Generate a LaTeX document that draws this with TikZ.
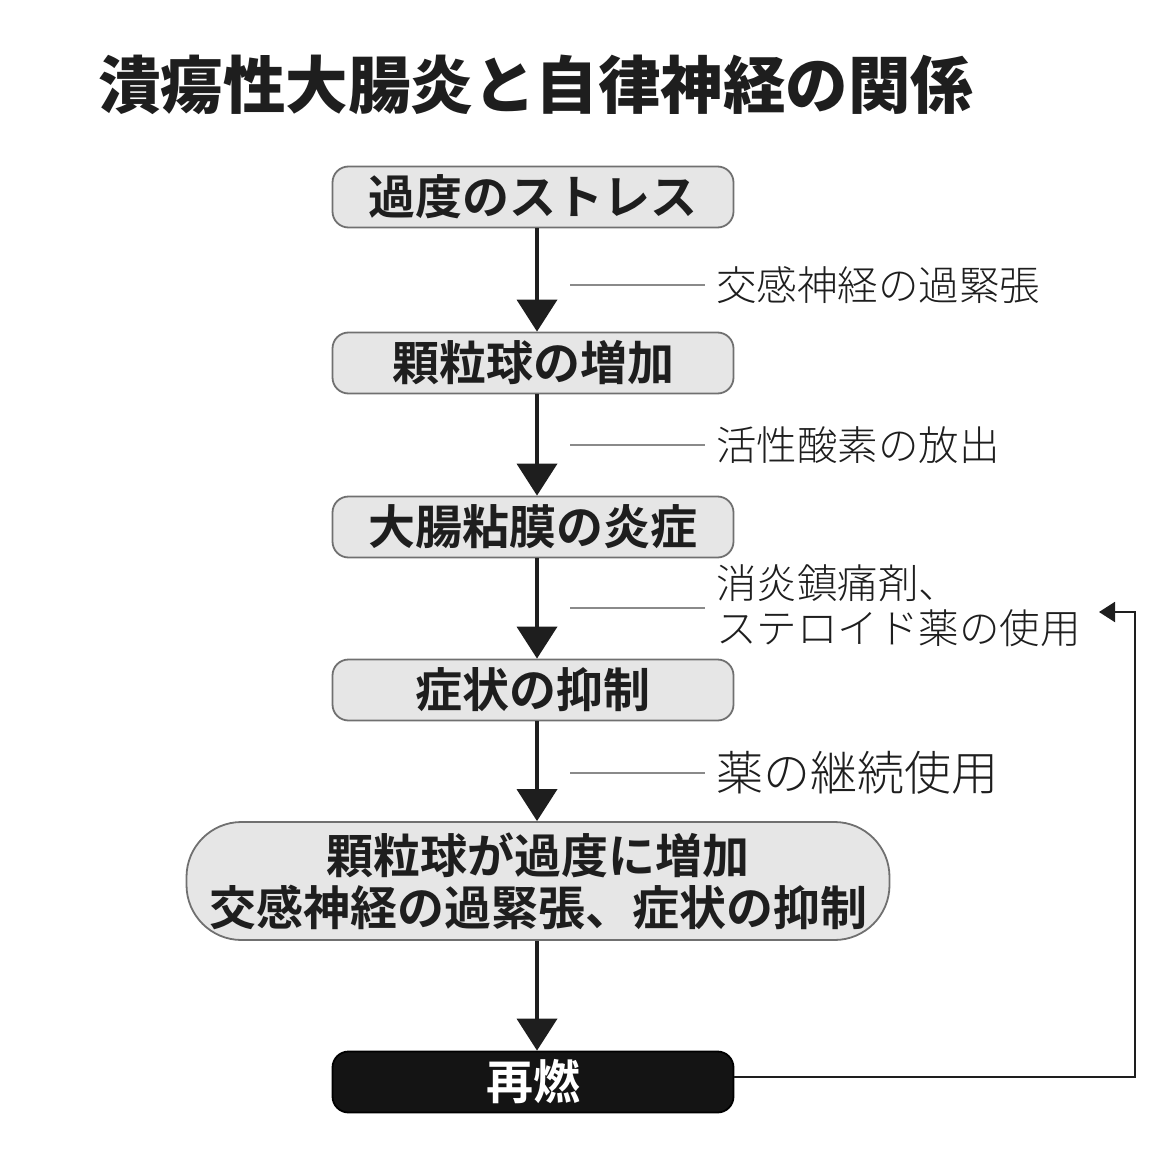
\documentclass[tikz,border=0pt]{standalone}
\usepackage{fontspec}
\usetikzlibrary{arrows.meta}
\newfontfamily\cjk{Noto Sans CJK JP}
\newfontfamily\cjkbold{Noto Sans CJK JP Bold}
\newfontfamily\cjkblack{Noto Sans CJK JP Black}
\newfontfamily\cjklight{Noto Sans CJK JP Light}
\definecolor{boxfill}{HTML}{E6E6E6}
\definecolor{boxline}{HTML}{707070}
\definecolor{sideline}{HTML}{8A8A8A}
\definecolor{txt}{HTML}{1E1E1E}
\tikzset{
  stepbox/.style={draw=boxline, line width=1.8pt, fill=boxfill, rounded corners=16pt,
    minimum width=401pt, minimum height=61pt, inner sep=0pt, text=txt,
    font=\cjkbold\fontsize{47}{52}\selectfont, align=center},
  bigbox/.style={stepbox, minimum width=703pt, minimum height=118pt, rounded corners=55pt},
  darkbox/.style={stepbox, draw=black, fill=black!92, text=white},
  flow/.style={line width=4pt, draw=txt, -{Triangle[width=40pt,length=32pt]}},
  tick/.style={draw=sideline, line width=1.6pt},
  sidelabel/.style={anchor=west, inner sep=0pt, text=txt, align=left,
    font=\cjklight\fontsize{40.5}{45}\selectfont},
  backarrow/.style={line width=2pt, draw=txt, -{Triangle[width=20pt,length=16pt]}}
}
\begin{document}
\begin{tikzpicture}[x=1pt,y=-1pt]
\useasboundingbox (0,0) rectangle (1150,1150);
\node[anchor=west, inner sep=0pt, text=txt, font=\cjkblack\fontsize{62.5}{66}\selectfont] (title) at (98,85) {潰瘍性大腸炎と自律神経の関係};

\node[stepbox] (b1) at (533,197) {過度のストレス};
\node[stepbox] (b2) at (533,363) {顆粒球の増加};
\node[stepbox] (b3) at (533,527) {大腸粘膜の炎症};
\node[stepbox] (b4) at (533,690) {症状の抑制};
\node[bigbox] (b5) at (538,881) {顆粒球が過度に増加\\交感神経の過緊張、症状の抑制};
\node[darkbox] (b6) at (533,1082) {再燃};

\draw[flow] ([xshift=4pt]b1.south) -- ([xshift=4pt]b2.north);
\draw[flow] ([xshift=4pt]b2.south) -- ([xshift=4pt]b3.north);
\draw[flow] ([xshift=4pt]b3.south) -- ([xshift=4pt]b4.north);
\draw[flow] ([xshift=4pt]b4.south) -- ([xshift=4pt]b5.north -| b4.south);
\draw[flow] ([xshift=4pt]b5.south -| b6.north) -- ([xshift=4pt]b6.north);

\coordinate (t1a) at (570,285); \coordinate (t1b) at (705,285);
\coordinate (t2a) at (570,445); \coordinate (t2b) at (705,445);
\coordinate (t3a) at (570,608); \coordinate (t3b) at (705,608);
\coordinate (t4a) at (570,773); \coordinate (t4b) at (705,773);
\draw[tick] (t1a) -- (t1b);
\draw[tick] (t2a) -- (t2b);
\draw[tick] (t3a) -- (t3b);
\draw[tick] (t4a) -- (t4b);

\node[sidelabel] (l1) at (716,285) {交感神経の過緊張};
\node[sidelabel] (l2) at (716,445) {活性酸素の放出};
\node[sidelabel] (l3) at (716,606) {消炎鎮痛剤、\\ステロイド薬の使用};
\node[sidelabel, font=\cjklight\fontsize{47}{52}\selectfont] (l4) at (716,773) {薬の継続使用};

\coordinate (c1) at (1135,1077);
\coordinate (c2) at (1135,612);
\coordinate (c3) at (1099,612);
\draw[backarrow] (b6.east |- c1) -- (c1) -- (c2) -- (c3);
\end{tikzpicture}
\end{document}
